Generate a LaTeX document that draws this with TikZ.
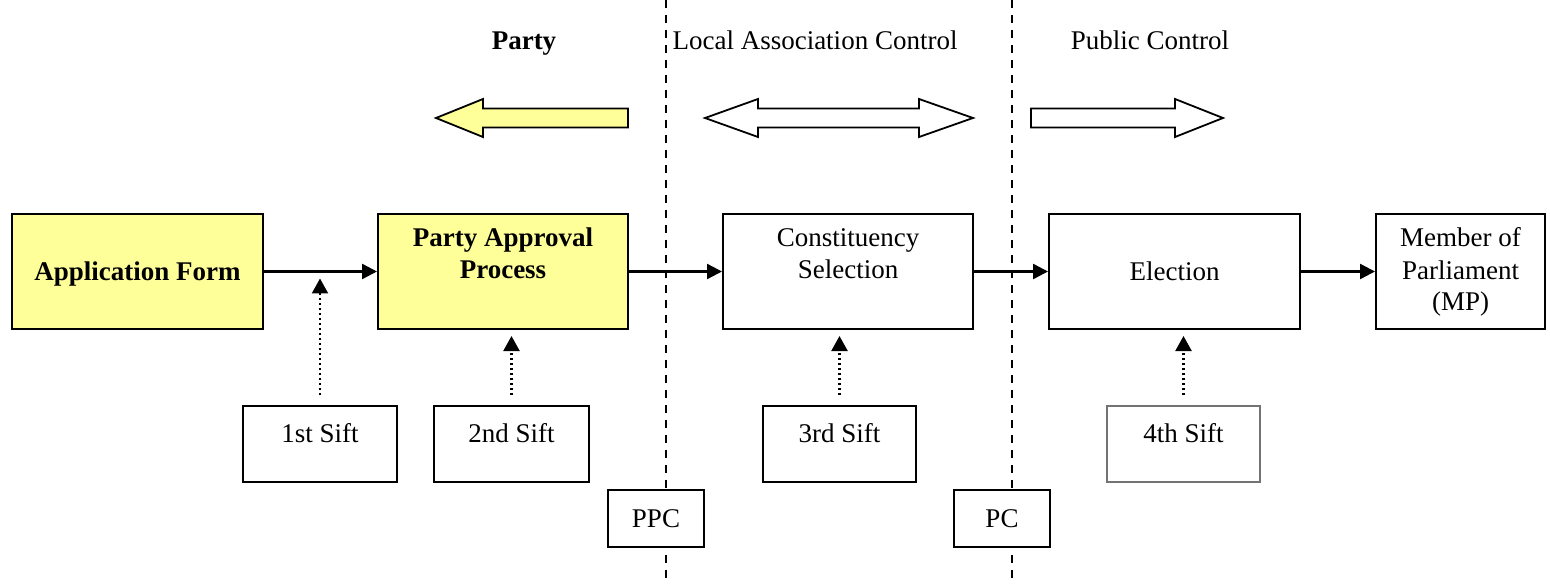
\documentclass[tikz,border=0pt]{standalone}
\usepackage{fontspec}
\setmainfont{Liberation Serif}
\usetikzlibrary{arrows.meta,calc}
\definecolor{paleyellow}{HTML}{FFFF99}
\newcommand\labelfont{\fontsize{27}{32}\selectfont}
\begin{document}
\begin{tikzpicture}[x=1pt,y=-1pt,
  every node/.style={font=\labelfont, inner sep=0pt},
  box/.style={draw=black, line width=2pt, fill=white, minimum height=115pt},
  hibox/.style={box, fill=paleyellow},
  siftbox/.style={draw=black, line width=1.8pt, fill=white, minimum width=154pt, minimum height=76pt},
  tagbox/.style={draw=black, line width=1.8pt, fill=white, minimum width=96pt, minimum height=57pt},
  boxtext/.style={anchor=base, align=center},
  flow/.style={line width=2.4pt, -{Triangle[length=15pt,width=15pt]}},
  siftarrow/.style={line width=2.2pt, dash pattern=on 2.2pt off 2.8pt,
    -{Triangle[length=15pt,width=16pt]}, shorten <=10pt},
  divider/.style={line width=1.8pt, dash pattern=on 8pt off 7pt},
  blockarrow/.style={draw=black, line width=1.8pt, line join=miter}
]
\useasboundingbox (0,0) rectangle (1550,585);

% section dividers
\coordinate (d1top) at (666,0);
\coordinate (d1bot) at (666,585);
\coordinate (d2top) at (1012,0);
\coordinate (d2bot) at (1012,585);
\draw[divider] (d1top) -- (d1bot);
\draw[divider] (d2top) -- (d2bot);

% section headings
\node[anchor=base, font=\labelfont\bfseries] (hparty) at (524,50) {Party};
\node[anchor=base] (hlocal) at (815,50) {Local Association Control};
\node[anchor=base] (hpublic) at (1150,50) {Public Control};

% block arrows under the headings
\draw[blockarrow, fill=paleyellow]
  (436,118) -- (483,99) -- (483,108.5) -- (628,108.5) -- (628,127.5) -- (483,127.5) -- (483,137) -- cycle;
\draw[blockarrow, fill=white]
  (705,118) -- (758,99) -- (758,108.5) -- (919,108.5) -- (919,99) -- (973,118)
  -- (919,137) -- (919,127.5) -- (758,127.5) -- (758,137) -- cycle;
\draw[blockarrow, fill=white]
  (1031,108.5) -- (1175,108.5) -- (1175,99) -- (1223,118) -- (1175,137) -- (1175,127.5) -- (1031,127.5) -- cycle;

% main process boxes
\node[hibox, minimum width=251pt] (af)  at (137.5,271.5) {};
\node[hibox, minimum width=250pt] (pap) at (503,271.5) {};
\node[box, minimum width=250pt]   (cs)  at (848,271.5) {};
\node[box, minimum width=251pt]   (el)  at (1174.5,271.5) {};
\node[box, minimum width=169pt]   (mp)  at (1460.5,271.5) {};

% box texts (the base anchor is the baseline of the last line)
\node[boxtext, font=\labelfont\bfseries] (aftext) at ($(af.center)+(0,9.5)$) {Application Form};
\node[boxtext, font=\labelfont\bfseries] (paptext) at ($(pap.north)+(0,66)$) {Party Approval\\Process};
\node[boxtext] (cstext) at ($(cs.north)+(0,66)$) {Constituency\\Selection};
\node[boxtext] (eltext) at ($(el.center)+(0,9.5)$) {Election};
\node[boxtext] (mptext) at ($(mp.north)+(0,98)$) {Member of\\Parliament\\(MP)};

% flow between stages
\draw[flow] (af) -- (pap);
\draw[flow] (pap) -- (cs);
\draw[flow] (cs) -- (el);
\draw[flow] (el) -- (mp);

% sift boxes
\node[siftbox] (s1) at (320,444) {};
\node[siftbox, minimum width=155pt] (s2) at (511.5,444) {};
\node[siftbox, minimum width=153pt] (s3) at (839.5,444) {};
\node[siftbox, minimum width=153pt, draw=black!55, line width=1.3pt] (s4) at (1183.5,444) {};
\node[boxtext] (s1text) at ($(s1.north)+(0,37)$) {1st Sift};
\node[boxtext] (s2text) at ($(s2.north)+(0,37)$) {2nd Sift};
\node[boxtext] (s3text) at ($(s3.north)+(0,37)$) {3rd Sift};
\node[boxtext] (s4text) at ($(s4.north)+(0,37)$) {4th Sift};

% where each sift acts
\coordinate (c1) at ($($(af.east)!0.5!(pap.west)$)+(0,7)$);
\draw[siftarrow] (s1.north) -- (s1.north |- c1);
\draw[siftarrow, shorten >=6pt] (s2.north) -- (s2.north |- pap.south);
\draw[siftarrow, shorten >=6pt] (s3.north) -- (s3.north |- cs.south);
\draw[siftarrow, shorten >=6pt] (s4.north) -- (s4.north |- el.south);

% tags on the dividers
\node[tagbox] (ppc) at (656,518.5) {PPC};
\node[tagbox] (pc) at (1002,518.5) {PC};
\end{tikzpicture}
\end{document}
